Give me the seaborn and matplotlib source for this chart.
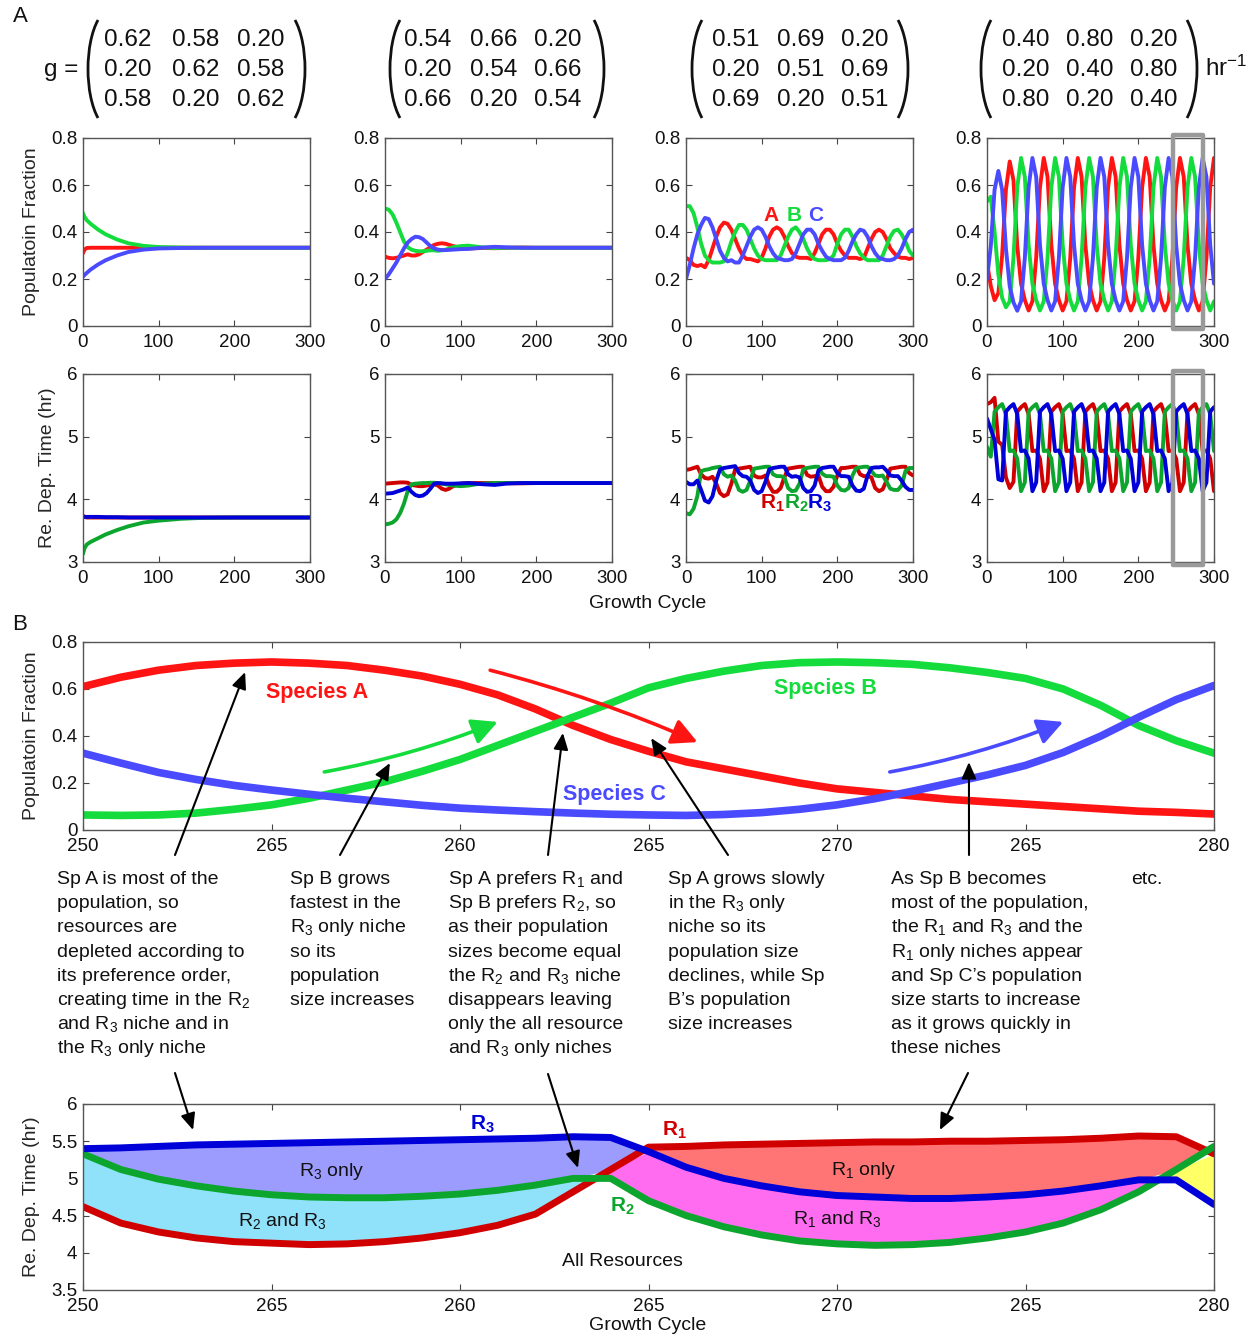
import numpy as np
import matplotlib
matplotlib.use("Agg")
import matplotlib.pyplot as plt
import seaborn as sns
from matplotlib.patches import Arc, Rectangle

sns.set_style("white")
plt.rcParams['font.family'] = ['Liberation Sans', 'DejaVu Sans']
plt.rcParams['mathtext.fontset'] = 'custom'
plt.rcParams['mathtext.rm'] = 'Liberation Sans'
plt.rcParams['mathtext.it'] = 'Liberation Sans:italic'
plt.rcParams['mathtext.bf'] = 'Liberation Sans:bold'
plt.rcParams['mathtext.sf'] = 'Liberation Sans'

# ---------------- data ----------------
G_MATRICES = [
    [["0.62", "0.58", "0.20"], ["0.20", "0.62", "0.58"], ["0.58", "0.20", "0.62"]],
    [["0.54", "0.66", "0.20"], ["0.20", "0.54", "0.66"], ["0.66", "0.20", "0.54"]],
    [["0.51", "0.69", "0.20"], ["0.20", "0.51", "0.69"], ["0.69", "0.20", "0.51"]],
    [["0.40", "0.80", "0.20"], ["0.20", "0.40", "0.80"], ["0.80", "0.20", "0.40"]],
]

# panel 1 (transient, uneven cycle grid)
P1_X = [0, 2, 5, 10, 20, 30, 45, 60, 80, 100, 130, 160, 200, 300]
P1_POP_A = [0.31, 0.325, 0.332, 0.333, 0.333, 0.333, 0.333, 0.333, 0.333, 0.333, 0.333, 0.333, 0.333, 0.333]
P1_POP_B = [0.48, 0.465, 0.45, 0.435, 0.41, 0.39, 0.368, 0.352, 0.341, 0.336, 0.334, 0.333, 0.333, 0.333]
P1_POP_C = [0.21, 0.217, 0.226, 0.24, 0.262, 0.28, 0.30, 0.315, 0.325, 0.33, 0.332, 0.333, 0.333, 0.333]
P1_RES_1 = [3.74, 3.72, 3.71, 3.71, 3.71, 3.71, 3.71, 3.71, 3.71, 3.71, 3.71, 3.71, 3.71, 3.71]
P1_RES_2 = [3.13, 3.22, 3.28, 3.32, 3.38, 3.44, 3.51, 3.57, 3.63, 3.66, 3.69, 3.705, 3.71, 3.71]
P1_RES_3 = [3.71, 3.72, 3.72, 3.72, 3.72, 3.715, 3.715, 3.71, 3.71, 3.71, 3.71, 3.71, 3.71, 3.71]

# panel 2
P2_X = [0, 5, 10, 15, 20, 25, 30, 35, 40, 45, 50, 55, 60, 65, 70, 75, 80, 85, 90, 100,
        110, 120, 130, 145, 160, 180, 200, 240, 300]
P2_POP_A = [0.295, 0.29, 0.288, 0.29, 0.295, 0.30, 0.305, 0.30, 0.30, 0.305, 0.315, 0.325, 0.335, 0.345,
            0.35, 0.352, 0.35, 0.345, 0.34, 0.333, 0.33, 0.331, 0.332, 0.331, 0.332, 0.334, 0.333, 0.333, 0.333]
P2_POP_B = [0.50, 0.495, 0.475, 0.44, 0.40, 0.36, 0.335, 0.325, 0.32, 0.318, 0.318, 0.32, 0.322, 0.322,
            0.32, 0.322, 0.325, 0.33, 0.335, 0.34, 0.342, 0.338, 0.334, 0.332, 0.333, 0.333, 0.333, 0.333, 0.333]
P2_POP_C = [0.20, 0.22, 0.245, 0.27, 0.30, 0.33, 0.355, 0.37, 0.38, 0.378, 0.37, 0.355, 0.34, 0.33,
            0.325, 0.323, 0.323, 0.324, 0.325, 0.327, 0.328, 0.331, 0.334, 0.337, 0.335, 0.333, 0.333, 0.333, 0.333]
P2_RES_1 = [4.25, 4.255, 4.26, 4.265, 4.27, 4.27, 4.265, 4.23, 4.22, 4.21, 4.21, 4.22, 4.23, 4.24,
            4.22, 4.17, 4.15, 4.17, 4.21, 4.25, 4.26, 4.26, 4.26, 4.26, 4.26, 4.255, 4.26, 4.26, 4.26]
P2_RES_2 = [3.60, 3.61, 3.63, 3.68, 3.78, 3.93, 4.13, 4.24, 4.25, 4.255, 4.26, 4.26, 4.265, 4.265,
            4.26, 4.25, 4.24, 4.23, 4.22, 4.21, 4.22, 4.24, 4.25, 4.26, 4.26, 4.26, 4.26, 4.26, 4.26]
P2_RES_3 = [4.09, 4.095, 4.10, 4.12, 4.14, 4.16, 4.19, 4.12, 4.07, 4.05, 4.06, 4.10, 4.17, 4.25,
            4.26, 4.255, 4.25, 4.25, 4.25, 4.255, 4.26, 4.25, 4.24, 4.23, 4.25, 4.26, 4.26, 4.26, 4.26]

# panels 3 and 4, every 5 growth cycles
CYCLES_5 = np.arange(0, 301, 5)
P3_POP_A = [0.29, 0.28, 0.26, 0.255, 0.26, 0.25, 0.28, 0.33, 0.38, 0.42, 0.44, 0.435, 0.41, 0.37, 0.33,
            0.30, 0.285, 0.285, 0.28, 0.275, 0.29, 0.33, 0.38, 0.41, 0.42, 0.41, 0.38, 0.34, 0.31, 0.295,
            0.29, 0.29, 0.29, 0.285, 0.31, 0.35, 0.39, 0.41, 0.41, 0.39, 0.35, 0.32, 0.30, 0.29, 0.29,
            0.29, 0.285, 0.29, 0.33, 0.37, 0.40, 0.41, 0.40, 0.37, 0.33, 0.31, 0.295, 0.29, 0.29, 0.285, 0.29]
P3_POP_B = [0.51, 0.51, 0.48, 0.42, 0.35, 0.30, 0.28, 0.27, 0.27, 0.27, 0.275, 0.31, 0.36, 0.40, 0.43,
            0.43, 0.41, 0.37, 0.33, 0.30, 0.285, 0.28, 0.28, 0.28, 0.28, 0.30, 0.34, 0.38, 0.41, 0.42,
            0.40, 0.37, 0.33, 0.30, 0.285, 0.28, 0.28, 0.28, 0.285, 0.30, 0.35, 0.39, 0.41, 0.41, 0.38,
            0.34, 0.31, 0.29, 0.28, 0.28, 0.28, 0.28, 0.30, 0.34, 0.38, 0.405, 0.41, 0.39, 0.36, 0.32, 0.30]
P3_POP_C = [0.20, 0.26, 0.33, 0.39, 0.43, 0.46, 0.455, 0.42, 0.37, 0.32, 0.29, 0.275, 0.28, 0.27, 0.27,
            0.30, 0.34, 0.38, 0.41, 0.42, 0.41, 0.38, 0.34, 0.31, 0.29, 0.285, 0.28, 0.28, 0.285, 0.31,
            0.35, 0.39, 0.41, 0.41, 0.39, 0.35, 0.32, 0.295, 0.285, 0.28, 0.28, 0.28, 0.29, 0.32, 0.36,
            0.39, 0.41, 0.405, 0.38, 0.34, 0.31, 0.29, 0.285, 0.28, 0.28, 0.285, 0.30, 0.33, 0.37, 0.40, 0.41]
P3_RES_1 = [4.47, 4.48, 4.50, 4.52, 4.40, 4.34, 4.33, 4.36, 4.25, 4.10, 4.05, 4.08, 4.25, 4.48, 4.49,
            4.50, 4.51, 4.52, 4.38, 4.35, 4.35, 4.38, 4.22, 4.12, 4.12, 4.18, 4.35, 4.49, 4.50, 4.51,
            4.52, 4.52, 4.39, 4.36, 4.37, 4.38, 4.20, 4.13, 4.13, 4.20, 4.38, 4.50, 4.50, 4.51, 4.52,
            4.52, 4.40, 4.37, 4.37, 4.35, 4.18, 4.13, 4.16, 4.30, 4.49, 4.50, 4.51, 4.52, 4.52, 4.42, 4.38]
P3_RES_2 = [3.78, 3.76, 3.85, 4.05, 4.45, 4.47, 4.48, 4.50, 4.51, 4.52, 4.40, 4.36, 4.38, 4.30, 4.15,
            4.12, 4.15, 4.30, 4.49, 4.50, 4.51, 4.52, 4.52, 4.40, 4.37, 4.37, 4.35, 4.18, 4.13, 4.14,
            4.25, 4.48, 4.50, 4.51, 4.52, 4.52, 4.41, 4.37, 4.37, 4.36, 4.22, 4.15, 4.14, 4.18, 4.38,
            4.50, 4.51, 4.52, 4.52, 4.45, 4.38, 4.37, 4.38, 4.28, 4.17, 4.15, 4.15, 4.22, 4.45, 4.50, 4.50]
P3_RES_3 = [4.28, 4.24, 4.24, 4.30, 4.15, 3.98, 3.95, 4.05, 4.30, 4.48, 4.50, 4.51, 4.52, 4.53, 4.42,
            4.37, 4.36, 4.30, 4.15, 4.10, 4.13, 4.28, 4.48, 4.50, 4.51, 4.52, 4.52, 4.40, 4.36, 4.37,
            4.35, 4.18, 4.12, 4.13, 4.22, 4.46, 4.50, 4.51, 4.52, 4.52, 4.42, 4.37, 4.37, 4.36, 4.22,
            4.14, 4.13, 4.17, 4.38, 4.50, 4.51, 4.51, 4.52, 4.46, 4.38, 4.37, 4.37, 4.30, 4.20, 4.15, 4.15]

P4_POP_A = [0.27, 0.17, 0.11, 0.14, 0.30, 0.58, 0.70, 0.62, 0.34, 0.18, 0.11, 0.066, 0.105, 0.29, 0.59,
            0.715, 0.635, 0.345, 0.18, 0.11, 0.066, 0.105, 0.29, 0.59,
            0.715, 0.635, 0.345, 0.18, 0.11, 0.066, 0.105, 0.29, 0.59,
            0.715, 0.635, 0.345, 0.18, 0.11, 0.066, 0.105, 0.29, 0.59,
            0.715, 0.635, 0.345, 0.18, 0.11, 0.066, 0.105, 0.29, 0.59,
            0.715, 0.635, 0.345, 0.18, 0.11, 0.066, 0.105, 0.29, 0.59,
            0.715]
P4_POP_B = [0.53, 0.55, 0.40, 0.22, 0.12, 0.08, 0.105, 0.29, 0.59,
            0.715, 0.635, 0.345, 0.18, 0.11, 0.066, 0.105, 0.29, 0.59,
            0.715, 0.635, 0.345, 0.18, 0.11, 0.066, 0.105, 0.29, 0.59,
            0.715, 0.635, 0.345, 0.18, 0.11, 0.066, 0.105, 0.29, 0.59,
            0.715, 0.635, 0.345, 0.18, 0.11, 0.066, 0.105, 0.29, 0.59,
            0.715, 0.635, 0.345, 0.18, 0.11, 0.066, 0.105, 0.29, 0.59,
            0.715, 0.635, 0.345, 0.18, 0.11, 0.066, 0.105]
P4_POP_C = [0.20, 0.34, 0.58, 0.66, 0.58, 0.33, 0.17, 0.10, 0.065, 0.105, 0.29, 0.59,
            0.715, 0.635, 0.345, 0.18, 0.11, 0.066, 0.105, 0.29, 0.59,
            0.715, 0.635, 0.345, 0.18, 0.11, 0.066, 0.105, 0.29, 0.59,
            0.715, 0.635, 0.345, 0.18, 0.11, 0.066, 0.105, 0.29, 0.59,
            0.715, 0.635, 0.345, 0.18, 0.11, 0.066, 0.105, 0.29, 0.59,
            0.715, 0.635, 0.345, 0.18, 0.11, 0.066, 0.105, 0.29, 0.59,
            0.715, 0.635, 0.345, 0.18]
P4_RES_1 = [5.52, 5.55, 5.62, 4.92, 4.87, 4.35, 4.18, 4.28,
            5.40, 5.47, 5.52, 5.36, 4.77, 4.78, 4.65, 4.13, 4.27,
            5.40, 5.47, 5.52, 5.36, 4.77, 4.78, 4.65, 4.13, 4.27,
            5.40, 5.47, 5.52, 5.36, 4.77, 4.78, 4.65, 4.13, 4.27,
            5.40, 5.47, 5.52, 5.36, 4.77, 4.78, 4.65, 4.13, 4.27,
            5.40, 5.47, 5.52, 5.36, 4.77, 4.78, 4.65, 4.13, 4.27,
            5.40, 5.47, 5.52, 5.36, 4.77, 4.78, 4.65, 4.13]
P4_RES_2 = [4.84, 4.68,
            5.40, 5.47, 5.52, 5.36, 4.77, 4.78, 4.65, 4.13, 4.27,
            5.40, 5.47, 5.52, 5.36, 4.77, 4.78, 4.65, 4.13, 4.27,
            5.40, 5.47, 5.52, 5.36, 4.77, 4.78, 4.65, 4.13, 4.27,
            5.40, 5.47, 5.52, 5.36, 4.77, 4.78, 4.65, 4.13, 4.27,
            5.40, 5.47, 5.52, 5.36, 4.77, 4.78, 4.65, 4.13, 4.27,
            5.40, 5.47, 5.52, 5.36, 4.77, 4.78, 4.65, 4.13, 4.27,
            5.40, 5.47, 5.52, 5.36, 4.77]
P4_RES_3 = [5.29, 5.12, 4.95, 4.32, 4.30,
            5.40, 5.47, 5.52, 5.36, 4.77, 4.78, 4.65, 4.13, 4.27,
            5.40, 5.47, 5.52, 5.36, 4.77, 4.78, 4.65, 4.13, 4.27,
            5.40, 5.47, 5.52, 5.36, 4.77, 4.78, 4.65, 4.13, 4.27,
            5.40, 5.47, 5.52, 5.36, 4.77, 4.78, 4.65, 4.13, 4.27,
            5.40, 5.47, 5.52, 5.36, 4.77, 4.78, 4.65, 4.13, 4.27,
            5.40, 5.47, 5.52, 5.36, 4.77, 4.78, 4.65, 4.13, 4.27,
            5.40, 5.47]

# panel B: cycles 250-280
CYCLES_B = np.arange(250, 281)
B_POP_A = [0.61, 0.65, 0.68, 0.70, 0.71, 0.715, 0.71, 0.70, 0.68, 0.655, 0.62, 0.575, 0.515, 0.445, 0.385,
           0.335, 0.29, 0.26, 0.23, 0.20, 0.175, 0.16, 0.145, 0.13, 0.12, 0.11, 0.10, 0.09, 0.08, 0.075, 0.068]
B_POP_B = [0.064, 0.062, 0.064, 0.072, 0.088, 0.107, 0.135, 0.17, 0.205, 0.25, 0.30, 0.36, 0.42, 0.48, 0.54,
           0.605, 0.645, 0.676, 0.70, 0.712, 0.715, 0.712, 0.705, 0.69, 0.67, 0.645, 0.60, 0.53, 0.445, 0.38, 0.327]
B_POP_C = [0.327, 0.285, 0.245, 0.215, 0.19, 0.17, 0.152, 0.135, 0.12, 0.105, 0.093, 0.085, 0.078, 0.072, 0.067,
           0.064, 0.062, 0.066, 0.074, 0.088, 0.107, 0.133, 0.165, 0.20, 0.235, 0.275, 0.33, 0.40, 0.48, 0.555, 0.615]
B_RES_1 = [4.62, 4.40, 4.28, 4.20, 4.15, 4.13, 4.11, 4.12, 4.15, 4.20, 4.27, 4.37, 4.52, 4.82, 5.12,
           5.42, 5.43, 5.45, 5.46, 5.47, 5.48, 5.49, 5.49, 5.50, 5.50, 5.51, 5.52, 5.54, 5.57, 5.56, 5.33]
B_RES_2 = [5.33, 5.12, 4.99, 4.90, 4.83, 4.78, 4.75, 4.74, 4.74, 4.76, 4.79, 4.84, 4.91, 5.00, 5.00,
           4.70, 4.50, 4.35, 4.24, 4.16, 4.12, 4.10, 4.11, 4.14, 4.20, 4.28, 4.40, 4.58, 4.82, 5.12, 5.43]
B_RES_3 = [5.40, 5.41, 5.43, 5.45, 5.46, 5.47, 5.48, 5.49, 5.50, 5.51, 5.52, 5.53, 5.54, 5.56, 5.55,
           5.36, 5.15, 5.00, 4.90, 4.82, 4.77, 4.75, 4.73, 4.73, 4.75, 4.78, 4.83, 4.90, 4.98, 4.98, 4.65]

B_TICKS = [250, 255, 260, 265, 270, 275, 280]
B_TICK_LABELS = ['250', '265', '260', '265', '270', '265', '280']

NOTES = [
    ["Sp A is most of the", "population, so", "resources are", "depleted according to",
     "its preference order,", "creating time in the R$_2$", "and R$_3$ niche and in", "the R$_3$ only niche"],
    ["Sp B grows", "fastest in the", "R$_3$ only niche", "so its", "population", "size increases"],
    ["Sp A prefers R$_1$ and", "Sp B prefers R$_2$, so", "as their population", "sizes become equal",
     "the R$_2$ and R$_3$ niche", "disappears leaving", "only the all resource", "and R$_3$ only niches"],
    ["Sp A grows slowly", "in the R$_3$ only", "niche so its", "population size",
     "declines, while Sp", "B\u2019s population", "size increases"],
    ["As Sp B becomes", "most of the population,", "the R$_1$ and R$_3$ and the", "R$_1$ only niches appear",
     "and Sp C\u2019s population", "size starts to increase", "as it grows quickly in", "these niches"],
    ["etc."],
]

# ---------------- style ----------------
POP_COLORS = ['#ff1414', '#14dc3c', '#4a4aff']
RES_COLORS = ['#d00000', '#0ca62e', '#0000d8']
FILL_R3 = '#9c9cff'
FILL_R23 = '#90e2fb'
FILL_R1 = '#ff7474'
FILL_R13 = '#ff6cf0'
FILL_R12 = '#ffff66'

W, H = 1253, 1338
fig = plt.figure(figsize=(W / 100, H / 100), dpi=100)


def px_axes(x0, y0, x1, y1):
    return fig.add_axes([x0 / W, 1 - y1 / H, (x1 - x0) / W, (y1 - y0) / H])


def line(ax, x, y, color, lw):
    sns.lineplot(x=np.asarray(x, float), y=np.asarray(y, float), ax=ax, color=color,
                 linewidth=lw, estimator=None, sort=False, legend=False)


def style(ax, xlim, xticks, xlabels, ylim, yticks, ylabels):
    ax.set_xlim(xlim)
    ax.set_ylim(ylim)
    ax.set_xticks(xticks)
    ax.set_xticklabels(xlabels)
    ax.set_yticks(yticks)
    ax.set_yticklabels(ylabels)
    ax.set_xlabel('')
    ax.set_ylabel('')
    ax.tick_params(direction='in', top=True, right=True, bottom=True, left=True,
                   length=4, width=0.8, color='#444', labelcolor='#111', labelsize=13.5, pad=4)
    ax.tick_params(axis='x', pad=6)
    for s in ax.spines.values():
        s.set_color('#555')
        s.set_linewidth(1.0)


COLS = [83, 385, 686, 987]
pop_sets = [(P1_X, P1_POP_A, P1_POP_B, P1_POP_C), (P2_X, P2_POP_A, P2_POP_B, P2_POP_C),
            (CYCLES_5, P3_POP_A, P3_POP_B, P3_POP_C), (CYCLES_5, P4_POP_A, P4_POP_B, P4_POP_C)]
res_sets = [(P1_X, P1_RES_1, P1_RES_2, P1_RES_3), (P2_X, P2_RES_1, P2_RES_2, P2_RES_3),
            (CYCLES_5, P3_RES_1, P3_RES_2, P3_RES_3), (CYCLES_5, P4_RES_1, P4_RES_2, P4_RES_3)]

top_axes, bot_axes = [], []
for i, c in enumerate(COLS):
    ax = px_axes(c, 138, c + 227, 326)
    x, a, b, cc = pop_sets[i]
    for yv, col in zip([a, b, cc], POP_COLORS):
        line(ax, x, yv, col, 2.8)
    style(ax, (0, 300), [0, 100, 200, 300], ['0', '100', '200', '300'],
          (0, 0.8), [0, 0.2, 0.4, 0.6, 0.8], ['0', '0.2', '0.4', '0.6', '0.8'])
    top_axes.append(ax)

    ax2 = px_axes(c, 374, c + 227, 562)
    x, r1, r2, r3 = res_sets[i]
    for yv, col in zip([r1, r2, r3], RES_COLORS):
        line(ax2, x, yv, col, 2.8)
    style(ax2, (0, 300), [0, 100, 200, 300], ['0', '100', '200', '300'],
          (3, 6), [3, 4, 5, 6], ['3', '4', '5', '6'])
    bot_axes.append(ax2)

top_axes[0].set_ylabel('Populatoin Fraction', fontsize=14, labelpad=8)
bot_axes[0].set_ylabel('Re. Dep. Time (hr)', fontsize=14, labelpad=8)

# labels in panel 3
for lab, xx, col in zip(['A', 'B', 'C'], [103, 133, 162], POP_COLORS):
    top_axes[2].text(xx, 0.472, lab, color=col, fontsize=15, fontweight='bold', ha='left', va='center')
for lab, xx, col in zip([r'$\mathbf{R_1}$', r'$\mathbf{R_2}$', r'$\mathbf{R_3}$'], [98, 129, 160], RES_COLORS):
    bot_axes[2].text(xx, 3.93, lab, color=col, fontsize=15, ha='left', va='center')

# grey window marking the cycles shown in B
top_axes[3].add_patch(Rectangle((246, -0.012), 39, 0.826, fill=False, ec='#9a9a9a', lw=3.2,
                                joinstyle='round', clip_on=False, zorder=5))
bot_axes[3].add_patch(Rectangle((246, 2.95), 39, 3.1, fill=False, ec='#9a9a9a', lw=3.2,
                                joinstyle='round', clip_on=False, zorder=5))

# ---------------- panel B top ----------------
axB1 = px_axes(83, 642, 1214, 830)
for yv, col in zip([B_POP_A, B_POP_B, B_POP_C], POP_COLORS):
    line(axB1, CYCLES_B, yv, col, 5.5)
style(axB1, (250, 280), B_TICKS, B_TICK_LABELS,
      (0, 0.8), [0, 0.2, 0.4, 0.6, 0.8], ['0', '0.2', '0.4', '0.6', '0.8'])
axB1.set_ylabel('Populatoin Fraction', fontsize=14, labelpad=8)
axB1.text(256.2, 0.583, 'Species A', color=POP_COLORS[0], fontsize=15.5, fontweight='bold', ha='center', va='center')
axB1.text(269.7, 0.604, 'Species B', color=POP_COLORS[1], fontsize=15.5, fontweight='bold', ha='center', va='center')
axB1.text(264.1, 0.149, 'Species C', color=POP_COLORS[2], fontsize=15.5, fontweight='bold', ha='center', va='center')

for (s, e, col, rad) in [((260.8, 0.68), (266.3, 0.374), POP_COLORS[0], -0.04),
                         ((256.4, 0.247), (261.0, 0.46), POP_COLORS[1], 0.05),
                         ((271.4, 0.247), (276.0, 0.46), POP_COLORS[2], 0.05)]:
    axB1.annotate('', xy=e, xytext=s,
                  arrowprops=dict(arrowstyle='-|>,head_length=0.55,head_width=0.28', color=col, lw=2.6,
                                  mutation_scale=28, shrinkA=0, shrinkB=0,
                                  connectionstyle='arc3,rad=%s' % rad))

# ---------------- panel B bottom ----------------
axB2 = px_axes(83, 1104, 1214, 1290)
r1 = np.array(B_RES_1)
r2 = np.array(B_RES_2)
r3 = np.array(B_RES_3)
lo = np.maximum(r1, r2)
axB2.fill_between(CYCLES_B, lo, r3, where=r3 >= lo, interpolate=True, color=FILL_R3, lw=0, zorder=1)
axB2.fill_between(CYCLES_B, r1, r2, where=(r2 >= r1) & (r3 >= r2), interpolate=True, color=FILL_R23, lw=0, zorder=1)
lo = np.maximum(r2, r3)
axB2.fill_between(CYCLES_B, lo, r1, where=r1 >= lo, interpolate=True, color=FILL_R1, lw=0, zorder=1)
hi = np.minimum(r1, r3)
axB2.fill_between(CYCLES_B, r2, hi, where=hi >= r2, interpolate=True, color=FILL_R13, lw=0, zorder=1)
hi = np.minimum(r1, r2)
axB2.fill_between(CYCLES_B, r3, hi, where=hi >= r3, interpolate=True, color=FILL_R12, lw=0, zorder=1)
for yv, col in zip([B_RES_1, B_RES_2, B_RES_3], RES_COLORS):
    line(axB2, CYCLES_B, yv, col, 5.0)
style(axB2, (250, 280), B_TICKS, B_TICK_LABELS,
      (3.5, 6), [3.5, 4, 4.5, 5, 5.5, 6], ['3.5', '4', '4.5', '5', '5.5', '6'])
axB2.set_ylabel('Re. Dep. Time (hr)', fontsize=14, labelpad=8)

axB2.text(260.6, 5.72, r'$\mathbf{R_3}$', color=RES_COLORS[2], fontsize=15, ha='center', va='center')
axB2.text(265.7, 5.64, r'$\mathbf{R_1}$', color=RES_COLORS[0], fontsize=15, ha='center', va='center')
axB2.text(264.3, 4.62, r'$\mathbf{R_2}$', color=RES_COLORS[1], fontsize=15, ha='center', va='center')
for txt, xx, yy in [('R$_3$ only', 256.6, 5.09), ('R$_2$ and R$_3$', 255.3, 4.43),
                    ('All Resources', 264.3, 3.88), ('R$_1$ only', 270.7, 5.10),
                    ('R$_1$ and R$_3$', 270.0, 4.45)]:
    axB2.text(xx, yy, txt, fontsize=14, color='#111', ha='center', va='center')

# ---------------- overlay in pixel coordinates ----------------
ov = fig.add_axes([0, 0, 1, 1], zorder=10)
ov.set_xlim(0, W)
ov.set_ylim(H, 0)
ov.axis('off')

ov.text(20, 17, 'A', fontsize=16, ha='center', va='center', color='#111')
ov.text(20, 625, 'B', fontsize=16, ha='center', va='center', color='#111')
ov.text(648, 603, 'Growth Cycle', fontsize=14, ha='center', va='center', color='#111')
ov.text(648, 1326, 'Growth Cycle', fontsize=14, ha='center', va='center', color='#111')

# matrices
ov.text(78, 70, 'g =', fontsize=17.5, ha='right', va='center', color='#111')
ov.text(1205, 68, 'hr$^{-1}$', fontsize=17.5, ha='left', va='center', color='#111')
MAT_COLS = [[128, 196, 261], [428, 494, 558], [736, 801, 865], [1026, 1090, 1154]]
PARENS = [(88, 305), (390, 604), (692, 908), (981, 1197)]
a_e, b_e, t_par = 23.5, 59.8, np.radians(55)
# Arc angles are polar angles; convert the parametric half-span
phi = np.degrees(np.arctan(b_e / a_e * np.tan(t_par)))
for m, cols, (lp, rp) in zip(G_MATRICES, MAT_COLS, PARENS):
    for r, yy in enumerate([40, 70, 100]):
        for cidx, xx in enumerate(cols):
            ov.text(xx, yy, m[r][cidx], fontsize=17.5, ha='center', va='center', color='#111')
    ov.add_patch(Arc((lp + a_e, 69), 2 * a_e, 2 * b_e, theta1=180 - phi, theta2=180 + phi, lw=2.0, color='#111'))
    ov.add_patch(Arc((rp - a_e, 69), 2 * a_e, 2 * b_e, theta1=-phi, theta2=phi, lw=2.0, color='#111'))

# explanatory notes, one text per line for an even line pitch
NOTE_X = [57, 290, 448, 668, 891, 1131]
for lines, xx in zip(NOTES, NOTE_X):
    for k, ln in enumerate(lines):
        ov.text(xx, 884 + k * 24.2, ln, fontsize=14, ha='left', va='baseline', color='#111')

black = dict(arrowstyle='-|>,head_length=0.5,head_width=0.22', color='k', lw=1.5,
             mutation_scale=20, shrinkA=0, shrinkB=0)
for (tx, ty), xy in [((175, 855), (254.3, 0.672)), ((340, 855), (258.14, 0.285)),
                     ((548, 855), (262.73, 0.413)), ((728, 855), (265.07, 0.391)),
                     ((969, 855), (273.5, 0.289))]:
    ov.annotate('', xy=xy, xycoords=axB1.transData, xytext=(tx, ty), textcoords='data', arrowprops=black)
for (tx, ty), xy in [((175, 1073), (252.92, 5.65)), ((548, 1074), (263.13, 5.14)),
                     ((968, 1073), (272.73, 5.65))]:
    ov.annotate('', xy=xy, xycoords=axB2.transData, xytext=(tx, ty), textcoords='data', arrowprops=black)

fig.savefig('out.png', dpi=100)
